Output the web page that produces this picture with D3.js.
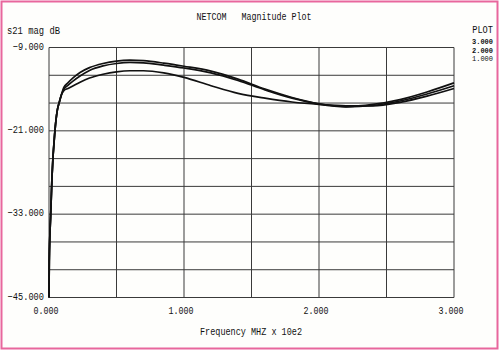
<!DOCTYPE html>
<html>
<head>
<meta charset="utf-8">
<script src="https://cdn.jsdelivr.net/npm/d3@7"></script>
<style>
  body { margin: 0; background: #fff; }
  svg { display: block; }
  text { font-family: "Liberation Mono", "DejaVu Sans Mono", monospace; fill: #111; }
</style>
</head>
<body>
<svg id="chart" width="500" height="351"></svg>
<script>
// frequency in MHz x 10e2
var freq = [0, 0.002, 0.0126, 0.022, 0.044, 0.061, 0.076, 0.094, 0.11, 0.14, 0.18, 0.23, 0.3, 0.4, 0.5, 0.6, 0.7, 0.85, 1.0, 1.2, 1.4, 1.6, 1.8, 2.0, 2.2, 2.4, 2.6, 2.8, 3.0];

// s21 magnitude (dB), one list per plot
var plot1 = [-45, -39.8, -33, -27.7, -21, -18.1, -16.9, -15.7, -15.2, -14.9, -14.5, -14.0, -13.4, -12.85, -12.5, -12.35, -12.35, -12.65, -13.3, -14.5, -15.6, -16.3, -16.85, -17.2, -17.4, -17.4, -16.9, -16.0, -14.9];
var plot2 = [-45, -39.8, -33, -27.7, -21, -18.1, -16.9, -15.7, -15.0, -14.45, -13.8, -13.1, -12.3, -11.65, -11.3, -11.15, -11.2, -11.55, -11.95, -12.65, -13.75, -15.1, -16.3, -17.15, -17.55, -17.35, -16.7, -15.7, -14.5];
var plot3 = [-45, -39.8, -33, -27.7, -21, -18.1, -16.9, -15.7, -14.75, -14.1, -13.35, -12.6, -11.9, -11.3, -10.95, -10.82, -10.9, -11.25, -11.7, -12.4, -13.55, -15.0, -16.2, -17.1, -17.5, -17.2, -16.5, -15.4, -14.1];

var xTicks = [0, 1, 2, 3];
var yTicks = [-9, -21, -33, -45];
var plotLabels = ["3.000", "2.000", "1.000"];

var svg = d3.select("#chart");
var margin = {top: 47.5, right: 46, bottom: 53.5, left: 49};
var width = 500 - margin.left - margin.right,
    height = 351 - margin.top - margin.bottom;

// pink frame round the page
svg.append("rect")
  .attr("x", 1.5).attr("y", 1.5)
  .attr("width", 496).attr("height", 347)
  .attr("fill", "#fefefc")
  .attr("stroke", "#e8679d")
  .attr("stroke-width", 2);

var x = d3.scaleLinear().domain([0, 3]).range([0, width]);
var y = d3.scaleLinear().domain([-45, -9]).range([height, 0]);

var g = svg.append("g")
  .attr("transform", "translate(" + margin.left + "," + margin.top + ")");

// grid: every 0.5 on x, every 4 dB on y
g.selectAll(".vgrid")
  .data(d3.range(0, 3.01, 0.5))
  .enter().append("line")
  .attr("x1", function(d) { return x(d); })
  .attr("x2", function(d) { return x(d); })
  .attr("y1", 0).attr("y2", height)
  .attr("stroke", "#3a3a3a").attr("stroke-width", 1);

g.selectAll(".hgrid")
  .data(d3.range(-45, -8.9, 4))
  .enter().append("line")
  .attr("y1", function(d) { return y(d); })
  .attr("y2", function(d) { return y(d); })
  .attr("x1", 0).attr("x2", width)
  .attr("stroke", "#3a3a3a").attr("stroke-width", 1);

// make text look like the narrow plotter font
function fit(sel, perChar) {
  sel.attr("textLength", function() { return this.textContent.length * perChar; })
     .attr("lengthAdjust", "spacingAndGlyphs");
}

// y tick labels
g.selectAll(".ylab")
  .data(yTicks)
  .enter().append("text")
  .attr("x", -5)
  .attr("y", function(d) { return y(d) + 2; })
  .attr("text-anchor", "end")
  .style("font-size", "11px")
  .text(function(d) { return d3.format(".3f")(d); })
  .call(fit, 5.2);

// x tick labels
g.selectAll(".xlab")
  .data(xTicks)
  .enter().append("text")
  .attr("x", function(d) { return x(d) - 3; })
  .attr("y", height + 16)
  .attr("text-anchor", "middle")
  .style("font-size", "11px")
  .text(function(d) { return d3.format(".3f")(d); })
  .call(fit, 5.0);

// curves
var line = d3.line()
  .x(function(d) { return x(d[0]); })
  .y(function(d) { return y(d[1]); })
  .curve(d3.curveMonotoneX);

[plot1, plot2, plot3].forEach(function(s) {
  g.append("path")
    .datum(d3.zip(freq, s))
    .attr("fill", "none")
    .attr("stroke", "#111")
    .attr("stroke-width", 1.7)
    .attr("stroke-linejoin", "round")
    .attr("d", line);
});

// titles
svg.append("text")
  .attr("x", 254).attr("y", 20)
  .attr("text-anchor", "middle")
  .style("font-size", "11px")
  .attr("xml:space", "preserve")
  .text("NETCOM   Magnitude Plot")
  .call(fit, 5.0);

svg.append("text")
  .attr("x", 7).attr("y", 34)
  .style("font-size", "11px")
  .text("s21 mag dB")
  .call(fit, 5.3);

svg.append("text")
  .attr("x", 251).attr("y", 335)
  .attr("text-anchor", "middle")
  .style("font-size", "11px")
  .attr("xml:space", "preserve")
  .text("Frequency MHZ x 10e2")
  .call(fit, 5.1);

// plot legend at top right
svg.append("text")
  .attr("x", 493).attr("y", 33)
  .attr("text-anchor", "end")
  .style("font-size", "10px")
  .text("PLOT")
  .call(fit, 5.2);

svg.selectAll(".plab")
  .data(plotLabels)
  .enter().append("text")
  .attr("x", 493)
  .attr("y", function(d, i) { return 44 + i * 8.5; })
  .attr("text-anchor", "end")
  .style("font-size", "8px")
  .style("font-weight", function(d, i) { return i < 2 ? "bold" : "normal"; })
  .text(function(d) { return d; })
  .call(fit, 4.2);
</script>
</body>
</html>
